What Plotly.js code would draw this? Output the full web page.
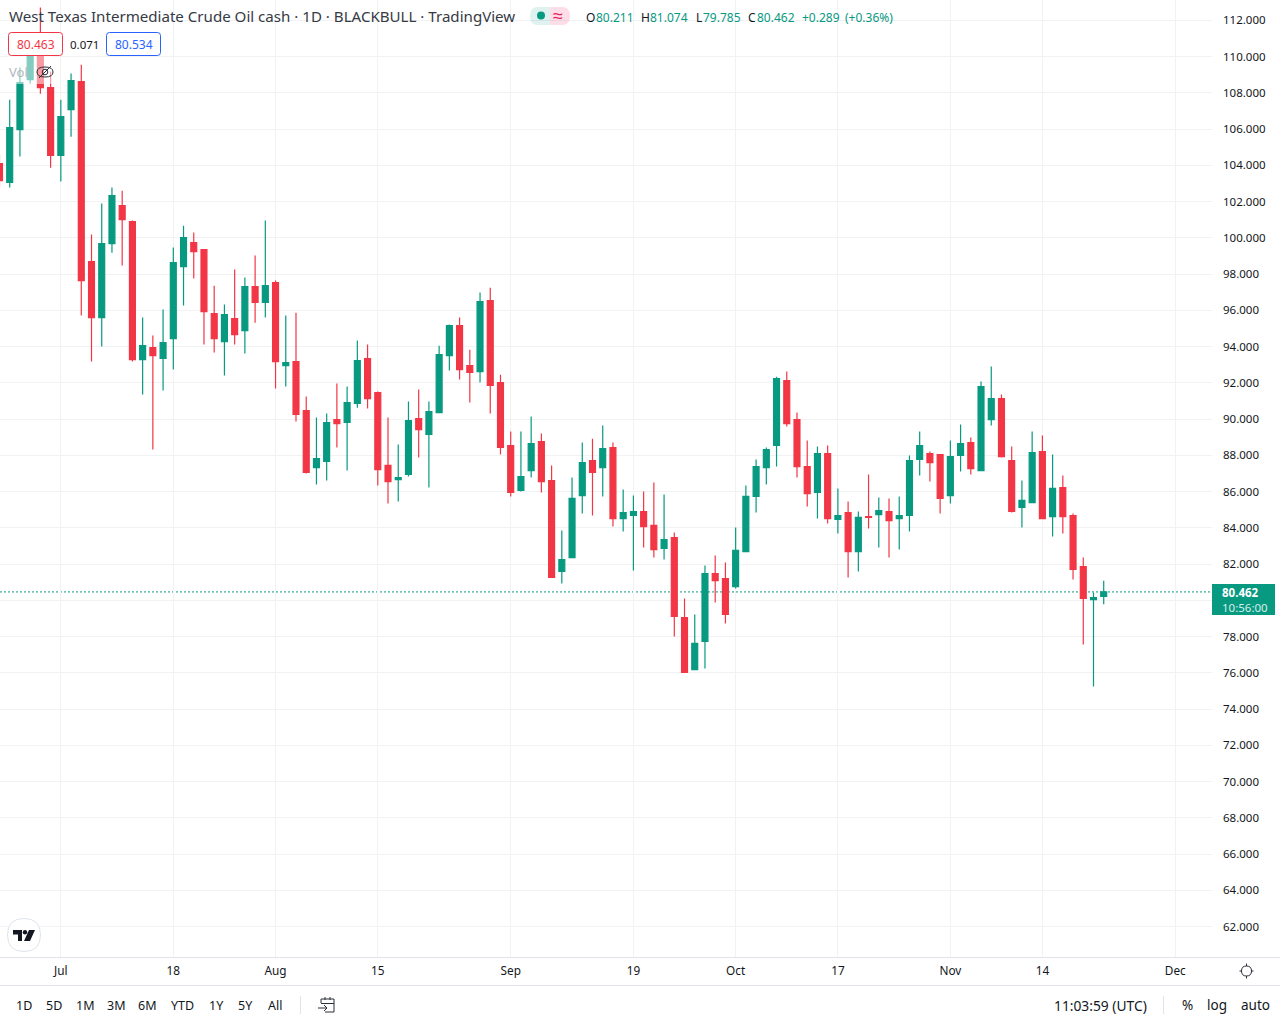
<!DOCTYPE html>
<html><head><meta charset="utf-8">
<script src="https://cdn.plot.ly/plotly-3.0.1.min.js"></script>
<style>html,body{margin:0;padding:0;background:#fff}#c{width:1280px;height:1024px}</style>
</head><body><div id="c"></div>
<script>
// Session number counted from 1 Jul (weekdays only); index -6 is the first candle on screen
const sessions = [-6,-5,-4,-3,-2,-1,0,1,2,3,4,5,6,7,8,9,10,11,12,13,14,15,16,17,18,19,20,21,22,23,24,25,26,27,28,29,30,31,32,33,34,35,36,37,38,39,40,41,42,43,44,45,46,47,48,49,50,51,52,53,54,55,56,57,58,59,60,61,62,63,64,65,66,67,68,69,70,71,72,73,74,75,76,77,78,79,80,81,82,83,84,85,86,87,88,89,90,91,92,93,94,95,96,97,98,99,100,101,102];
const open = [104.09,103.05,105.97,108.73,110.93,108.29,104.54,107.07,108.62,98.69,95.60,99.68,101.78,100.89,93.28,93.94,93.34,94.44,98.41,99.74,99.35,95.82,94.27,95.54,94.88,97.31,96.43,97.53,92.95,93.17,90.47,87.32,87.66,89.97,89.81,90.86,93.34,91.46,87.44,86.66,86.94,90.03,89.15,90.36,93.50,95.16,92.95,92.62,96.54,92.01,88.54,86.06,87.16,88.76,86.61,81.59,82.36,85.78,87.71,87.32,88.43,84.51,84.68,84.90,84.13,82.86,83.46,79.05,76.18,77.73,81.48,81.20,80.76,82.69,85.73,87.32,88.54,92.12,89.97,87.38,85.95,88.10,84.46,84.84,82.69,84.62,84.73,84.90,84.51,84.68,87.77,88.10,88.04,85.78,87.99,88.70,87.16,89.97,91.13,87.71,85.12,85.39,88.21,84.62,86.22,84.68,81.86,80.04,80.211];
const close = [103.16,106.08,108.56,110.38,108.29,104.54,106.69,108.67,97.64,95.60,99.68,102.33,101.00,93.28,94.05,93.50,94.22,98.63,100.01,99.24,95.93,94.44,95.76,94.66,97.31,96.43,97.36,93.17,93.12,90.25,87.05,87.82,89.81,89.75,90.91,93.23,91.13,87.21,86.55,86.77,89.92,89.42,90.41,93.56,95.16,92.73,92.57,96.48,91.85,88.43,85.95,86.83,88.65,86.55,81.26,82.25,85.62,87.60,87.05,88.37,84.51,84.84,84.90,84.07,82.80,83.35,79.11,76.02,77.62,81.48,81.09,79.22,82.75,85.73,87.38,88.32,92.23,89.75,87.38,85.89,88.10,84.51,84.68,82.69,84.57,84.57,84.95,84.40,84.68,87.71,88.54,87.60,85.62,87.93,88.65,87.27,91.79,91.13,87.93,84.90,85.51,88.15,84.51,86.17,84.62,81.70,80.10,80.15,80.462];
const high = [104.6,107.62,109.39,110.93,112.70,109.17,107.62,109.06,109.55,100.18,101.89,102.77,102.60,100.95,95.60,94.61,96.04,99.46,100.67,100.29,99.35,97.36,96.32,98.25,97.81,99.02,100.95,97.64,95.71,95.87,91.24,90.08,90.30,91.96,91.79,94.33,94.11,91.52,90.08,88.59,90.97,91.63,90.97,94.05,95.21,95.60,93.83,96.98,97.25,92.45,89.31,89.31,90.14,89.20,87.44,83.85,86.77,88.70,88.92,89.64,88.70,86.11,85.78,86.00,86.50,85.84,83.74,80.10,79.22,81.92,82.47,82.09,84.02,86.33,87.77,88.43,92.34,92.62,90.36,88.81,88.48,88.54,86.17,85.45,84.90,86.94,85.67,85.62,85.73,87.99,89.31,88.21,88.04,88.81,89.70,88.98,92.07,92.90,91.35,88.48,86.61,89.31,89.09,88.04,86.88,84.79,82.36,80.43,81.074];
const low = [102.8,102.77,104.48,108.51,107.95,103.87,103.10,105.58,95.71,93.17,94.00,99.18,98.47,93.17,91.35,88.32,91.57,92.73,96.26,97.75,94.11,93.67,92.40,94.11,93.61,95.32,95.60,91.68,91.79,89.86,86.99,86.39,86.61,88.43,87.16,90.63,90.58,86.33,85.34,85.45,86.83,87.88,86.22,90.36,92.68,92.18,90.91,92.01,90.30,88.04,85.73,86.00,86.77,85.95,81.26,80.93,82.36,84.79,84.68,85.73,84.07,83.79,81.64,82.91,82.36,82.25,78.00,76.02,76.18,76.24,79.88,78.72,80.65,82.69,84.84,86.39,87.38,89.59,86.77,85.17,84.51,84.24,83.68,81.26,81.59,83.96,82.91,82.36,82.80,83.79,86.88,86.55,84.79,85.34,87.10,86.94,87.16,89.64,87.88,84.84,84.02,85.39,84.51,83.52,83.68,81.15,77.56,75.25,79.785];

const xTickVals = [0,11,21,31,44,56,66,76,87,96,109];
const xTickText = ['Jul','18','Aug','15','Sep','19','Oct','17','Nov','14','Dec'];
// 80 keeps its gridline; its label sits behind the last-price tag in the original
const yTickVals = [62,64,66,68,70,72,74,76,78,80,82,84,86,88,90,92,94,96,98,100,102,104,106,108,110,112];
const yTickText = ['62.000','64.000','66.000','68.000','70.000','72.000','74.000','76.000','78.000','','82.000','84.000','86.000','88.000','90.000','92.000','94.000','96.000','98.000','100.000','102.000','104.000','106.000','108.000','110.000','112.000'];
const lastPrice = 80.462;

const UP='#089981', DOWN='#F23645', GRID='#f1f2f4', BORDER='#e0e3eb', INK='#131722';
const FONT='"Noto Sans", sans-serif';
const W=1212, H=957;
const X=p=>p/W, Y=p=>(H-p)/H;
const pth=s=>s.replace(/(-?[\d.]+),(-?[\d.]+)/g,(m,a,b)=>X(+a)+','+Y(+b));
const shape=(d,o)=>Object.assign({type:'path',xref:'paper',yref:'paper',path:pth(d),line:{width:0}},o||{});
const line=(x0,y0,x1,y1,c,w,dash)=>({type:'line',xref:'paper',yref:'paper',x0:X(x0),x1:X(x1),y0:Y(y0),y1:Y(y1),line:{color:c,width:w||1,dash:dash||'solid'}});
const rrect=(x0,y0,x1,y1,r)=>`M${x0+r},${y0} L${x1-r},${y0} Q${x1},${y0} ${x1},${y0+r} L${x1},${y1-r} Q${x1},${y1} ${x1-r},${y1} L${x0+r},${y1} Q${x0},${y1} ${x0},${y1-r} L${x0},${y0+r} Q${x0},${y0} ${x0+r},${y0} Z`;
const ellipse=(cx,cy,rx,ry)=>`M${cx-rx},${cy} Q${cx-rx},${cy-ry} ${cx},${cy-ry} Q${cx+rx},${cy-ry} ${cx+rx},${cy} Q${cx+rx},${cy+ry} ${cx},${cy+ry} Q${cx-rx},${cy+ry} ${cx-rx},${cy} Z`;
const txt=(x,y,t,size,color,anchor,extra)=>Object.assign({xref:'paper',yref:'paper',x:X(x),y:Y(y),text:t,showarrow:false,xanchor:anchor||'center',yanchor:'middle',font:{family:FONT,size:size||12,color:color||INK},borderpad:0,borderwidth:0},extra||{});

const shapes=[
 {type:'line',xref:'paper',yref:'y',x0:0,x1:1,y0:lastPrice,y1:lastPrice,layer:'below',line:{color:UP,width:1,dash:'2px,2px'}},
 line(0,957.5,1280,957.5,BORDER),
 line(0,985.5,1280,985.5,BORDER),
 line(300.5,996,300.5,1014,BORDER),
 line(1163.5,996,1163.5,1014,BORDER),
 shape(`M8,56 L54,56 L54,84 L8,84 Z`,{fillcolor:'rgba(255,255,255,0.5)'}),
 shape(rrect(8.5,32.5,62.5,55.5,3),{fillcolor:'#fff',line:{color:DOWN,width:1}}),
 shape(rrect(106.5,32.5,160.5,55.5,3),{fillcolor:'#fff',line:{color:'#2962FF',width:1}}),
 shape(`M550,7 L538,7 Q530,7 530,16 Q530,25 538,25 L550,25 Z`,{fillcolor:'rgba(8,153,129,0.13)'}),
 shape(`M550,7 L562,7 Q570,7 570,16 Q570,25 562,25 L550,25 Z`,{fillcolor:'rgba(233,30,99,0.15)'}),
 shape(ellipse(541,15.5,4,4),{fillcolor:UP}),
 shape(ellipse(45,72,8,5),{line:{color:'#2a2e39',width:1}}),
 shape(ellipse(45,72,2.8,2.8),{line:{color:'#2a2e39',width:1}}),
 line(39,78,51,66,'#2a2e39',1),
 shape(ellipse(24,935,16.5,16.5),{fillcolor:'#fff',line:{color:BORDER,width:1}}),
 shape(`M13,930 L22,930 L22,941 L18,941 L18,934.5 L13,934.5 Z`,{fillcolor:INK}),
 shape(ellipse(25,932.2,2.2,2.2),{fillcolor:INK}),
 shape(`M29,930 L35,930 L30,941 L24,941 Z`,{fillcolor:INK}),
 shape(ellipse(1246.5,971,5,5),{line:{color:'#2a2e39',width:1}}),
 line(1246.5,963.5,1246.5,966,'#2a2e39',1),line(1246.5,976,1246.5,978.5,'#2a2e39',1),
 line(1239.5,971,1241.5,971,'#2a2e39',1),line(1251.5,971,1253.5,971,'#2a2e39',1),
 shape(`M321,1003 L321,999 L334,999 L334,1012 L325,1012`,{line:{color:'#2a2e39',width:1}}),
 line(321,1003.5,334,1003.5,'#2a2e39',1),line(325,997,325,1000,'#2a2e39',1),line(330,997,330,1000,'#2a2e39',1),
 shape(`M318,1008 L327,1008 M324,1005 L327,1008 L324,1011`,{line:{color:'#2a2e39',width:1}}),
 shape(`M1212,584 L1275,584 L1275,615 L1212,615 Z`,{fillcolor:UP})
];

const annotations=[
 txt(9,16,'West Texas Intermediate Crude Oil cash · 1D · BLACKBULL · TradingView',15.1,'#363a45','left'),
 txt(35.5,44,'80.463',12,DOWN),
 txt(84.5,44,'0.071',11.5,INK),
 txt(133.5,44,'80.534',12,'#2962FF'),
 txt(9,72,'Vol',13,'#b2b5be','left'),
 txt(558,15.5,'≈',18,'#E91E63'),
 txt(586,17.5,'O',12,INK,'left'),txt(596,17.5,'80.211',12,UP,'left'),
 txt(641,17.5,'H',12,INK,'left'),txt(650,17.5,'81.074',12,UP,'left'),
 txt(696,17.5,'L',12,INK,'left'),txt(703,17.5,'79.785',12,UP,'left'),
 txt(748,17.5,'C',12,INK,'left'),txt(757,17.5,'80.462',12,UP,'left'),
 txt(802,17.5,'+0.289',12,UP,'left'),txt(845,17.5,'(+0.36%)',12,UP,'left'),
 txt(1222,599.5,'<b>80.462</b><br><span style="color:#d5efea">10:56:00</span>',11.5,'#fff','left',{align:'left'}),
 ...[['1D',24],['5D',54],['1M',85],['3M',116],['6M',147],['YTD',182],['1Y',216],['5Y',245],['All',275]].map(a=>txt(a[1],1005,a[0],12.5,INK)),
 txt(1100,1005,'11:03:59 (UTC)',13.8,INK),
 txt(1187,1005,'%',13.5,INK),
 txt(1217,1005,'log',13.5,INK),
 txt(1255,1005,'auto',13.5,INK)
];

Plotly.newPlot('c',[{
  type:'candlestick',x:sessions,open:open,high:high,low:low,close:close,
  increasing:{line:{color:UP,width:1.2},fillcolor:UP},
  decreasing:{line:{color:DOWN,width:1.2},fillcolor:DOWN},
  hoverinfo:'skip',showlegend:false
}],{
  width:1280,height:1024,margin:{l:0,r:68,t:0,b:67,pad:0},
  paper_bgcolor:'#fff',plot_bgcolor:'#fff',showlegend:false,boxmode:'overlay',boxgap:0.42,boxgroupgap:0,
  font:{family:FONT,size:12,color:INK},
  xaxis:{type:'linear',range:[-5.95,112.59],tickmode:'array',tickvals:xTickVals,ticktext:xTickText,
    showgrid:true,gridcolor:GRID,gridwidth:1,zeroline:false,showline:false,ticks:'',
    rangeslider:{visible:false},tickfont:{size:11.8,color:INK},ticklabelstandoff:5,fixedrange:true},
  yaxis:{type:'linear',side:'right',range:[60.32,113.12],tickmode:'array',tickvals:yTickVals,ticktext:yTickText,
    showgrid:true,gridcolor:GRID,gridwidth:1,zeroline:false,showline:false,ticks:'',
    tickfont:{size:11.5,color:INK},ticklabelstandoff:10,fixedrange:true},
  shapes:shapes,annotations:annotations
},{displayModeBar:false,staticPlot:true});
</script></body></html>
